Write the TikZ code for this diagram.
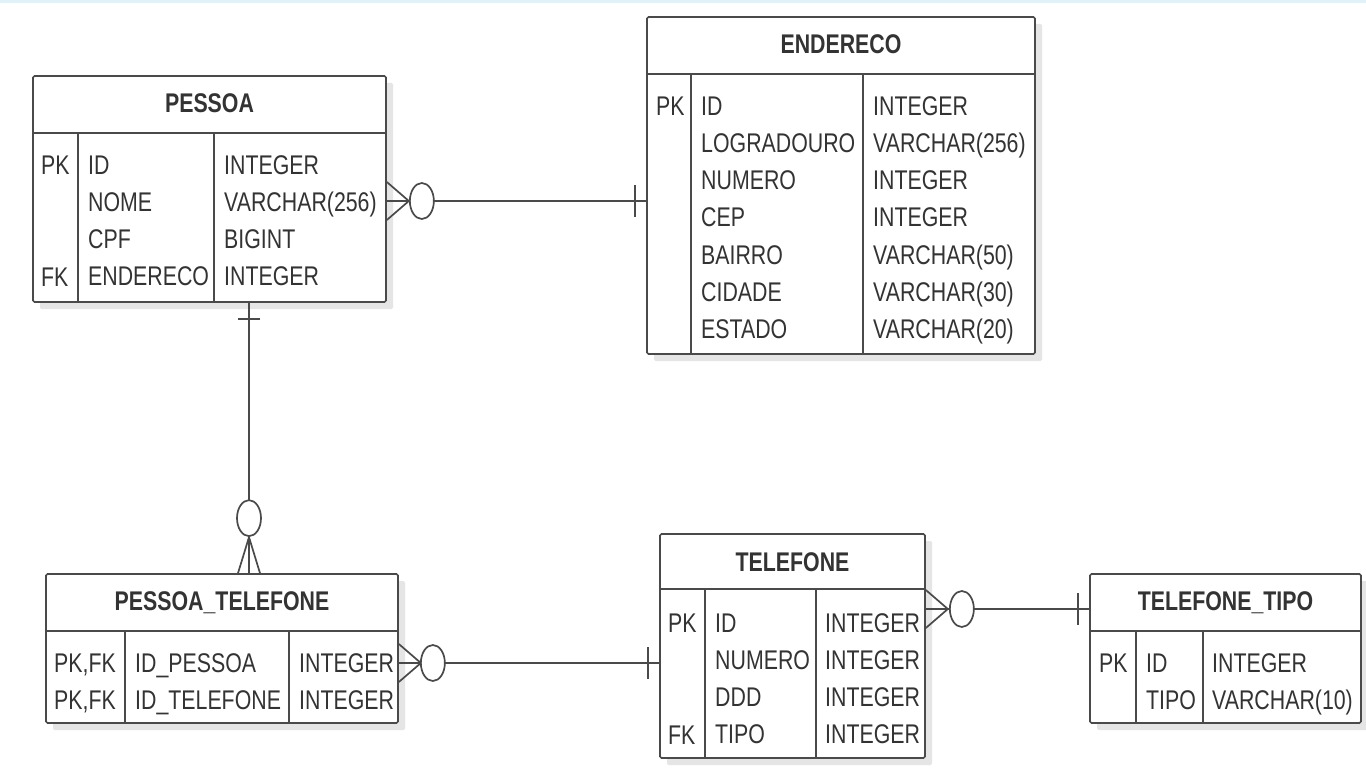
\documentclass[tikz,border=0pt]{standalone}
\usepackage{fontspec}
\setmainfont{Liberation Sans}[FakeStretch=0.79]
\usetikzlibrary{calc,shadows}
\definecolor{lc}{HTML}{4A4A4A}
\definecolor{tc}{HTML}{333333}
\definecolor{topline}{HTML}{E2F0F7}
\begin{document}
\begin{tikzpicture}[x=1pt,y=-1pt,
  ent/.style={draw=lc, line width=1.7pt, fill=white, rounded corners=1.5pt, inner sep=0pt,
    drop shadow={shadow xshift=7pt, shadow yshift=-7pt, fill=black!10, opacity=1}},
  hdr/.style={font=\fontsize{27}{32}\selectfont\bfseries, text=tc, inner sep=0pt, anchor=base},
  fld/.style={font=\fontsize{27}{32}\selectfont, text=tc, inner sep=0pt, anchor=base west},
  rule/.style={draw=lc, line width=1.7pt},
  conn/.style={draw=lc, line width=1.7pt},
  ring/.style={draw=lc, line width=1.7pt, fill=white}
]
\useasboundingbox[fill=white] (0,0) rectangle (1366,768);
\fill[topline] (0,0) rectangle (1366,3);

% ---------------- PESSOA
\node[ent, minimum width=353pt, minimum height=226pt] (pessoa) at (209.5,189) {};
\node[hdr] (pessoa-h) at (209.5,113) {PESSOA};
\draw[rule] ($(pessoa.north west)+(0,58)$) -- ($(pessoa.north east)+(0,58)$);
\draw[rule] ($(pessoa.north west)+(46,58)$) -- ($(pessoa.south west)+(46,0)$);
\draw[rule] ($(pessoa.north west)+(182,58)$) -- ($(pessoa.south west)+(182,0)$);
\node[fld] (pessoa-pk) at (41,174) {PK};
\node[fld] (pessoa-fk) at (41,286) {FK};
\foreach \t [count=\i from 0] in {ID,NOME,CPF,ENDERECO}
  \node[fld] (pessoa-n\i) at (88,174+37.3*\i) {\t};
\foreach \t [count=\i from 0] in {INTEGER,VARCHAR(256),BIGINT,INTEGER}
  \node[fld] (pessoa-t\i) at (224,174+37.3*\i) {\t};

% ---------------- ENDERECO
\node[ent, minimum width=388pt, minimum height=337pt] (endereco) at (841,185.5) {};
\node[hdr] (endereco-h) at (841,54) {ENDERECO};
\draw[rule] ($(endereco.north west)+(0,58)$) -- ($(endereco.north east)+(0,58)$);
\draw[rule] ($(endereco.north west)+(45,58)$) -- ($(endereco.south west)+(45,0)$);
\draw[rule] ($(endereco.north west)+(217,58)$) -- ($(endereco.south west)+(217,0)$);
\node[fld] (endereco-pk) at (656,115) {PK};
\foreach \t [count=\i from 0] in {ID,LOGRADOURO,NUMERO,CEP,BAIRRO,CIDADE,ESTADO}
  \node[fld] (endereco-n\i) at (701,115+37.3*\i) {\t};
\foreach \t [count=\i from 0] in {INTEGER,VARCHAR(256),INTEGER,INTEGER,VARCHAR(50),VARCHAR(30),VARCHAR(20)}
  \node[fld] (endereco-t\i) at (873,115+37.3*\i) {\t};

% ---------------- PESSOA_TELEFONE
\node[ent, minimum width=352pt, minimum height=149pt] (pt) at (222,648.5) {};
\node[hdr] (pt-h) at (222,610) {PESSOA\_TELEFONE};
\draw[rule] ($(pt.north west)+(0,58)$) -- ($(pt.north east)+(0,58)$);
\draw[rule] ($(pt.north west)+(80,58)$) -- ($(pt.south west)+(80,0)$);
\draw[rule] ($(pt.north west)+(244,58)$) -- ($(pt.south west)+(244,0)$);
\node[fld] (pt-k0) at (54,672) {PK,FK};
\node[fld] (pt-k1) at (54,709) {PK,FK};
\node[fld] (pt-n0) at (135,672) {ID\_PESSOA};
\node[fld] (pt-n1) at (135,709) {ID\_TELEFONE};
\node[fld] (pt-t0) at (299,672) {INTEGER};
\node[fld] (pt-t1) at (299,709) {INTEGER};

% ---------------- TELEFONE
\node[ent, minimum width=265pt, minimum height=224pt] (tel) at (792.5,646) {};
\node[hdr] (tel-h) at (792.5,571) {TELEFONE};
\draw[rule] ($(tel.north west)+(0,56)$) -- ($(tel.north east)+(0,56)$);
\draw[rule] ($(tel.north west)+(46,56)$) -- ($(tel.south west)+(46,0)$);
\draw[rule] ($(tel.north west)+(157,56)$) -- ($(tel.south west)+(157,0)$);
\node[fld] (tel-pk) at (668,632) {PK};
\node[fld] (tel-fk) at (668,744) {FK};
\foreach \t [count=\i from 0] in {ID,NUMERO,DDD,TIPO}
  \node[fld] (tel-n\i) at (715,632+37.3*\i) {\t};
\foreach \t [count=\i from 0] in {INTEGER,INTEGER,INTEGER,INTEGER}
  \node[fld] (tel-t\i) at (825,632+37.3*\i) {\t};

% ---------------- TELEFONE_TIPO
\node[ent, minimum width=271pt, minimum height=149pt] (tt) at (1225.5,648.5) {};
\node[hdr] (tt-h) at (1225.5,610) {TELEFONE\_TIPO};
\draw[rule] ($(tt.north west)+(0,58)$) -- ($(tt.north east)+(0,58)$);
\draw[rule] ($(tt.north west)+(47,58)$) -- ($(tt.south west)+(47,0)$);
\draw[rule] ($(tt.north west)+(114,58)$) -- ($(tt.south west)+(114,0)$);
\node[fld] (tt-pk) at (1099,672) {PK};
\node[fld] (tt-n0) at (1146,672) {ID};
\node[fld] (tt-n1) at (1146,709) {TIPO};
\node[fld] (tt-t0) at (1212,672) {INTEGER};
\node[fld] (tt-t1) at (1212,709) {VARCHAR(10)};

% ---------------- connectors
% PESSOA -- ENDERECO
\coordinate (y1) at (0,201);
\draw[conn] (pessoa.east |- y1) coordinate (a1) -- (endereco.west |- y1) coordinate (b1);
\draw[conn] ($(a1)+(0,-19)$) -- ($(a1)+(22,0)$) -- ($(a1)+(0,19)$);
\draw[ring] ($(a1)+(35,0)$) ellipse [x radius=12pt, y radius=18pt];
\draw[conn] ($(b1)+(-11,-16)$) -- ($(b1)+(-11,16)$);

% PESSOA -- PESSOA_TELEFONE
\coordinate (x2) at (249,0);
\draw[conn] (pessoa.south -| x2) coordinate (a2) -- (pt.north -| x2) coordinate (b2);
\draw[conn] ($(a2)+(-11,16)$) -- ($(a2)+(11,16)$);
\draw[conn] ($(b2)+(-11,0)$) -- ($(b2)+(0,-36)$) -- ($(b2)+(11,0)$);
\draw[ring] ($(b2)+(0,-55)$) ellipse [x radius=12pt, y radius=18pt];

% PESSOA_TELEFONE -- TELEFONE
\coordinate (y3) at (0,663);
\draw[conn] (pt.east |- y3) coordinate (a3) -- (tel.west |- y3) coordinate (b3);
\draw[conn] ($(a3)+(0,-19)$) -- ($(a3)+(22,0)$) -- ($(a3)+(0,19)$);
\draw[ring] ($(a3)+(34,0)$) ellipse [x radius=12pt, y radius=18pt];
\draw[conn] ($(b3)+(-11,-16)$) -- ($(b3)+(-11,16)$);

% TELEFONE -- TELEFONE_TIPO
\coordinate (y4) at (0,609);
\draw[conn] (tel.east |- y4) coordinate (a4) -- (tt.west |- y4) coordinate (b4);
\draw[conn] ($(a4)+(0,-19)$) -- ($(a4)+(22,0)$) -- ($(a4)+(0,19)$);
\draw[ring] ($(a4)+(36,0)$) ellipse [x radius=12pt, y radius=18pt];
\draw[conn] ($(b4)+(-11,-16)$) -- ($(b4)+(-11,16)$);
\end{tikzpicture}
\end{document}
